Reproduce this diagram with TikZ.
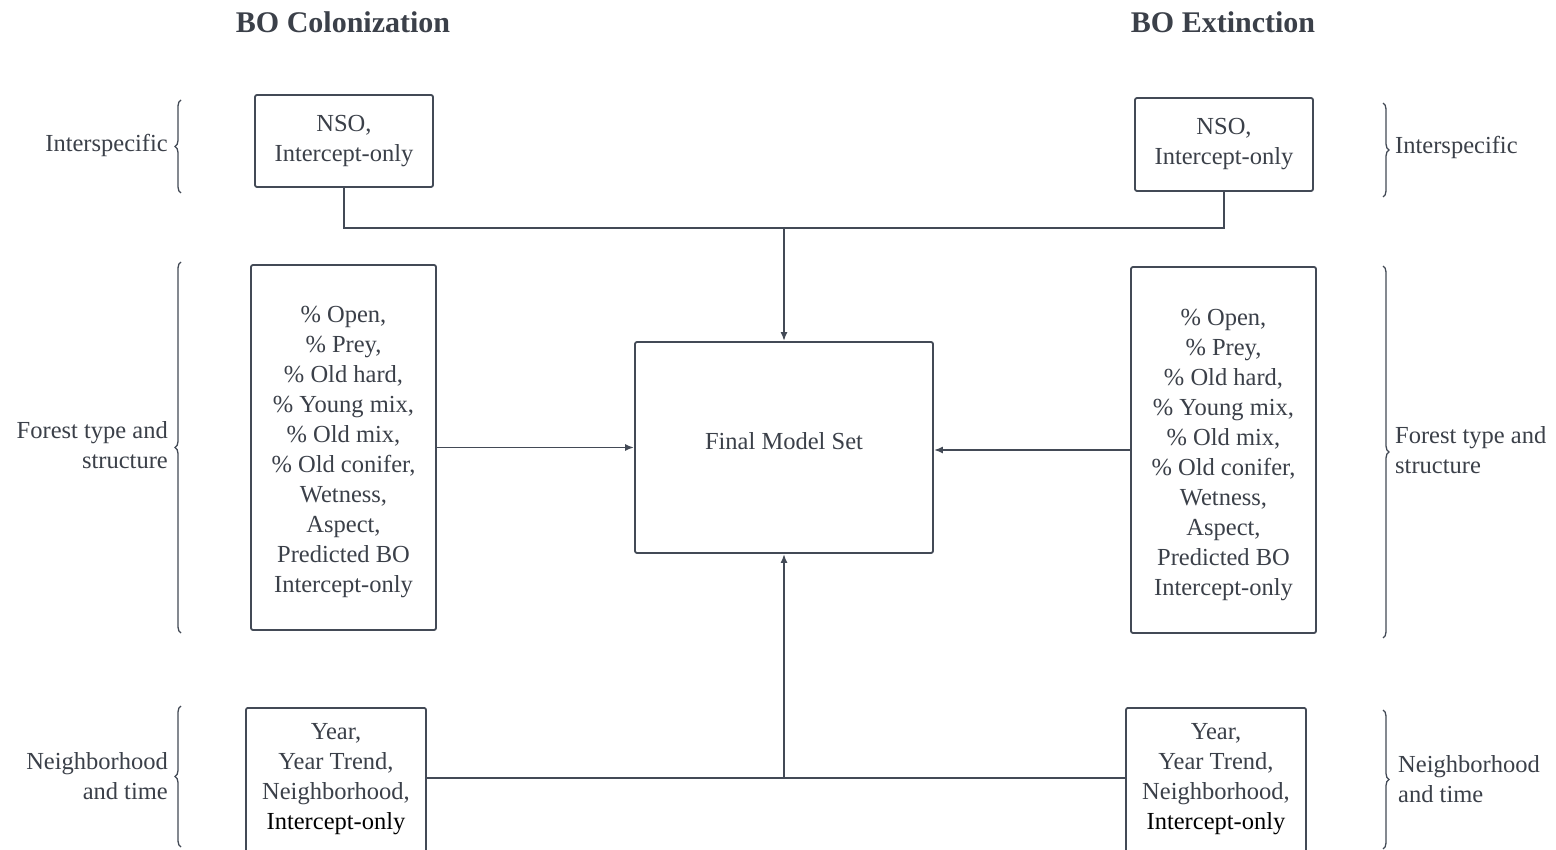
\documentclass[tikz,border=0pt]{standalone}
\usepackage{fontspec}
\setmainfont{Liberation Serif}
\usetikzlibrary{arrows.meta,decorations.pathreplacing}
\definecolor{txt}{HTML}{3B4049}
\definecolor{ln}{HTML}{434A56}
\tikzset{
  box/.style={draw=ln, line width=1.8pt, rounded corners=2pt, align=center, text=txt,
    font=\fontsize{24.5}{30}\selectfont, inner sep=0pt},
  conn/.style={draw=ln, line width=1.8pt},
  arr/.style={conn, -{Latex[length=9pt,width=7pt]}},
  lbl/.style={text=txt, font=\fontsize{24.5}{30}\selectfont, inner sep=0pt},
  ttl/.style={text=txt, font=\fontsize{30}{34}\selectfont\bfseries, inner sep=0pt},
  brc/.style={draw=ln, line width=1.3pt, decorate, decoration={brace, amplitude=6pt}}
}
\begin{document}
\begin{tikzpicture}[x=1pt,y=-1pt]
\useasboundingbox (0,0) rectangle (1556,850);
\clip (0,0) rectangle (1556,850);
\fill[white] (0,0) rectangle (1556,850);

% titles
\node[ttl] (t1) at (343,22) {BO Colonization};
\node[ttl] (t2) at (1223,22) {BO Extinction};

% boxes
\node[box, minimum width=178pt, minimum height=92pt] (nsol) at (344,141) {NSO,\\Intercept-only};
\node[box, minimum width=178pt, minimum height=93pt] (nsor) at (1224,144.5) {NSO,\\Intercept-only};

\node[box, minimum width=185pt, minimum height=365pt] (fl) at (343.5,447.5)
  {\rule{0pt}{26pt}\% Open,\\\% Prey,\\\% Old hard,\\\% Young mix,\\\% Old mix,\\\% Old conifer,\\Wetness,\\Aspect,\\Predicted BO\\Intercept-only};
\node[box, minimum width=185pt, minimum height=366pt] (fr) at (1223.5,450)
  {\rule{0pt}{26pt}\% Open,\\\% Prey,\\\% Old hard,\\\% Young mix,\\\% Old mix,\\\% Old conifer,\\Wetness,\\Aspect,\\Predicted BO\\Intercept-only};

\node[box, minimum width=298pt, minimum height=211pt] (final) at (784,447.5) {Final Model Set\rule[-14pt]{0pt}{0pt}};

\node[box, anchor=north, minimum width=180pt, inner ysep=16pt] (nbl) at (336,707)
  {Year,\\Year Trend,\\Neighborhood,\\\textcolor{black}{Intercept-only}\rule[-40pt]{0pt}{0pt}};
\node[box, anchor=north, minimum width=180pt, inner ysep=16pt] (nbr) at (1216,707)
  {Year,\\Year Trend,\\Neighborhood,\\\textcolor{black}{Intercept-only}\rule[-40pt]{0pt}{0pt}};

% connectors
\coordinate (topj) at (784,228);
\coordinate (botj) at (784,778);
\draw[conn] (nsol.south) -- (nsol.south |- topj) -- (nsor.south |- topj) -- (nsor.south);
\draw[arr] (topj) -- (final.north);
\draw[arr] (fl.east) -- (final.west |- fl.east);
\draw[arr] (fr.west) -- (final.east |- fr.west);
\draw[conn] (nbl.east |- botj) -- (nbr.west |- botj);
\draw[arr] (botj) -- (final.south);

% left braces and labels
\draw[brc] (181,193) -- (181,100);
\draw[brc] (181,633) -- (181,262);
\draw[brc] (181,847) -- (181,706);
\node[lbl, anchor=east, align=right] (l1) at (168,145) {Interspecific};
\node[lbl, anchor=east, align=right] (l2) at (168,445) {Forest type and\\structure};
\node[lbl, anchor=east, align=right] (l3) at (168,776) {Neighborhood\\and time};

% right braces and labels
\draw[brc] (1383,103) -- (1383,197);
\draw[brc] (1383,266) -- (1383,638);
\draw[brc] (1383,710) -- (1383,849);
\node[lbl, anchor=west, align=left] (r1) at (1395,147) {Interspecific};
\node[lbl, anchor=west, align=left] (r2) at (1395,450) {Forest type and\\structure};
\node[lbl, anchor=west, align=left] (r3) at (1398,779) {Neighborhood\\and time};
\end{tikzpicture}
\end{document}
